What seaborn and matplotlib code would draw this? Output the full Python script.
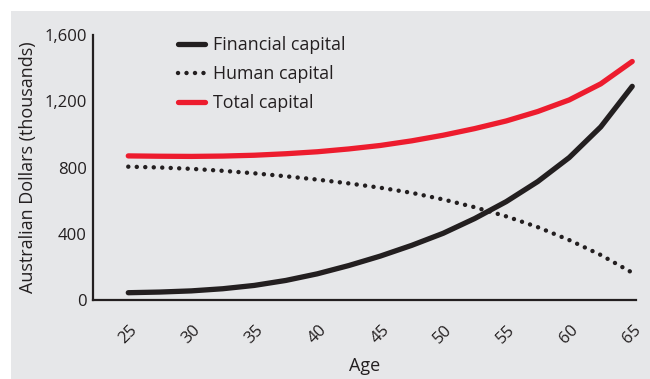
import matplotlib
matplotlib.use("Agg")
import matplotlib.pyplot as plt
import matplotlib.patches as mpatches
from matplotlib.ticker import FuncFormatter
import pandas as pd
import seaborn as sns

# Capital over a working life, in thousands of Australian dollars
ages = [25, 27.5, 30, 32.5, 35, 37.5, 40, 42.5, 45, 47.5, 50, 52.5, 55, 57.5, 60, 62.5, 65]
financial = [44, 48, 55, 68, 88, 118, 158, 208, 265, 330, 403, 492, 594, 715, 860, 1045, 1290]
human = [805, 800, 792, 780, 765, 747, 727, 704, 678, 647, 607, 560, 505, 440, 362, 272, 165]
total = [870, 868, 867, 869, 874, 883, 895, 912, 933, 961, 995, 1035, 1081, 1138, 1208, 1305, 1440]

series_names = ["Financial capital", "Human capital", "Total capital"]
x_ticks = [25, 30, 35, 40, 45, 50, 55, 60, 65]
y_ticks = [0, 400, 800, 1200, 1600]

BG = "#e6e7e9"
INK = "#231f20"
RED = "#ed1c2e"

sns.set_theme(style="white")
plt.rcParams["font.family"] = ["Open Sans", "DejaVu Sans"]
plt.rcParams["text.color"] = INK
plt.rcParams["axes.labelcolor"] = INK
plt.rcParams["xtick.color"] = INK
plt.rcParams["ytick.color"] = INK

df = pd.DataFrame({"Age": ages, series_names[0]: financial,
                   series_names[1]: human, series_names[2]: total})

fig = plt.figure(figsize=(6.5, 3.79), dpi=100)
fig.patch.set_facecolor("white")
fig.patches.append(mpatches.Rectangle((11 / 650, 0), 1 - 11 / 650, 1 - 11 / 379,
                                      transform=fig.transFigure, facecolor=BG,
                                      edgecolor="none", zorder=-10))

ax = fig.add_axes([93 / 650, 1 - 300 / 379, (636 - 93) / 650, (300 - 35) / 379])
ax.set_facecolor(BG)

styles = {
    series_names[0]: dict(color=INK, linewidth=3.8, linestyle="-"),
    series_names[1]: dict(color=INK, linewidth=3.2, linestyle=(0, (0.01, 1.9))),
    series_names[2]: dict(color=RED, linewidth=3.8, linestyle="-"),
}

for name in series_names:
    sns.lineplot(data=df, x="Age", y=name, ax=ax, label=name, **styles[name])

for line in ax.get_lines():
    line.set_solid_capstyle("round")
    line.set_solid_joinstyle("round")
    line.set_dash_capstyle("round")

ax.set_xlim(22.2, 65.3)
ax.set_ylim(0, 1600)
ax.set_xticks(x_ticks)
ax.set_yticks(y_ticks)
ax.yaxis.set_major_formatter(FuncFormatter(lambda v, p: f"{int(v):,}"))
ax.tick_params(axis="both", length=0, labelsize=12)
ax.tick_params(axis="y", pad=4.5)
ax.tick_params(axis="x", pad=16)
for lbl in ax.get_xticklabels():
    lbl.set_rotation(45)
    lbl.set_ha("center")

ax.set_xlabel("Age", fontsize=13, labelpad=7)
ax.set_ylabel("Australian Dollars (thousands)", fontsize=13, labelpad=5)

for side in ["top", "right"]:
    ax.spines[side].set_visible(False)
for side in ["left", "bottom"]:
    ax.spines[side].set_visible(True)
    ax.spines[side].set_color(INK)
    ax.spines[side].set_linewidth(1.6)

leg = ax.legend(loc="upper left", bbox_to_anchor=(0.156, 0.995), frameon=False,
                fontsize=12.8, handlelength=1.55, handletextpad=0.45,
                labelspacing=0.62, borderaxespad=0, borderpad=0)
for h in leg.get_lines():
    h.set_solid_capstyle("round")
    h.set_dash_capstyle("round")

fig.savefig("out.png", dpi=100, facecolor=fig.get_facecolor())
